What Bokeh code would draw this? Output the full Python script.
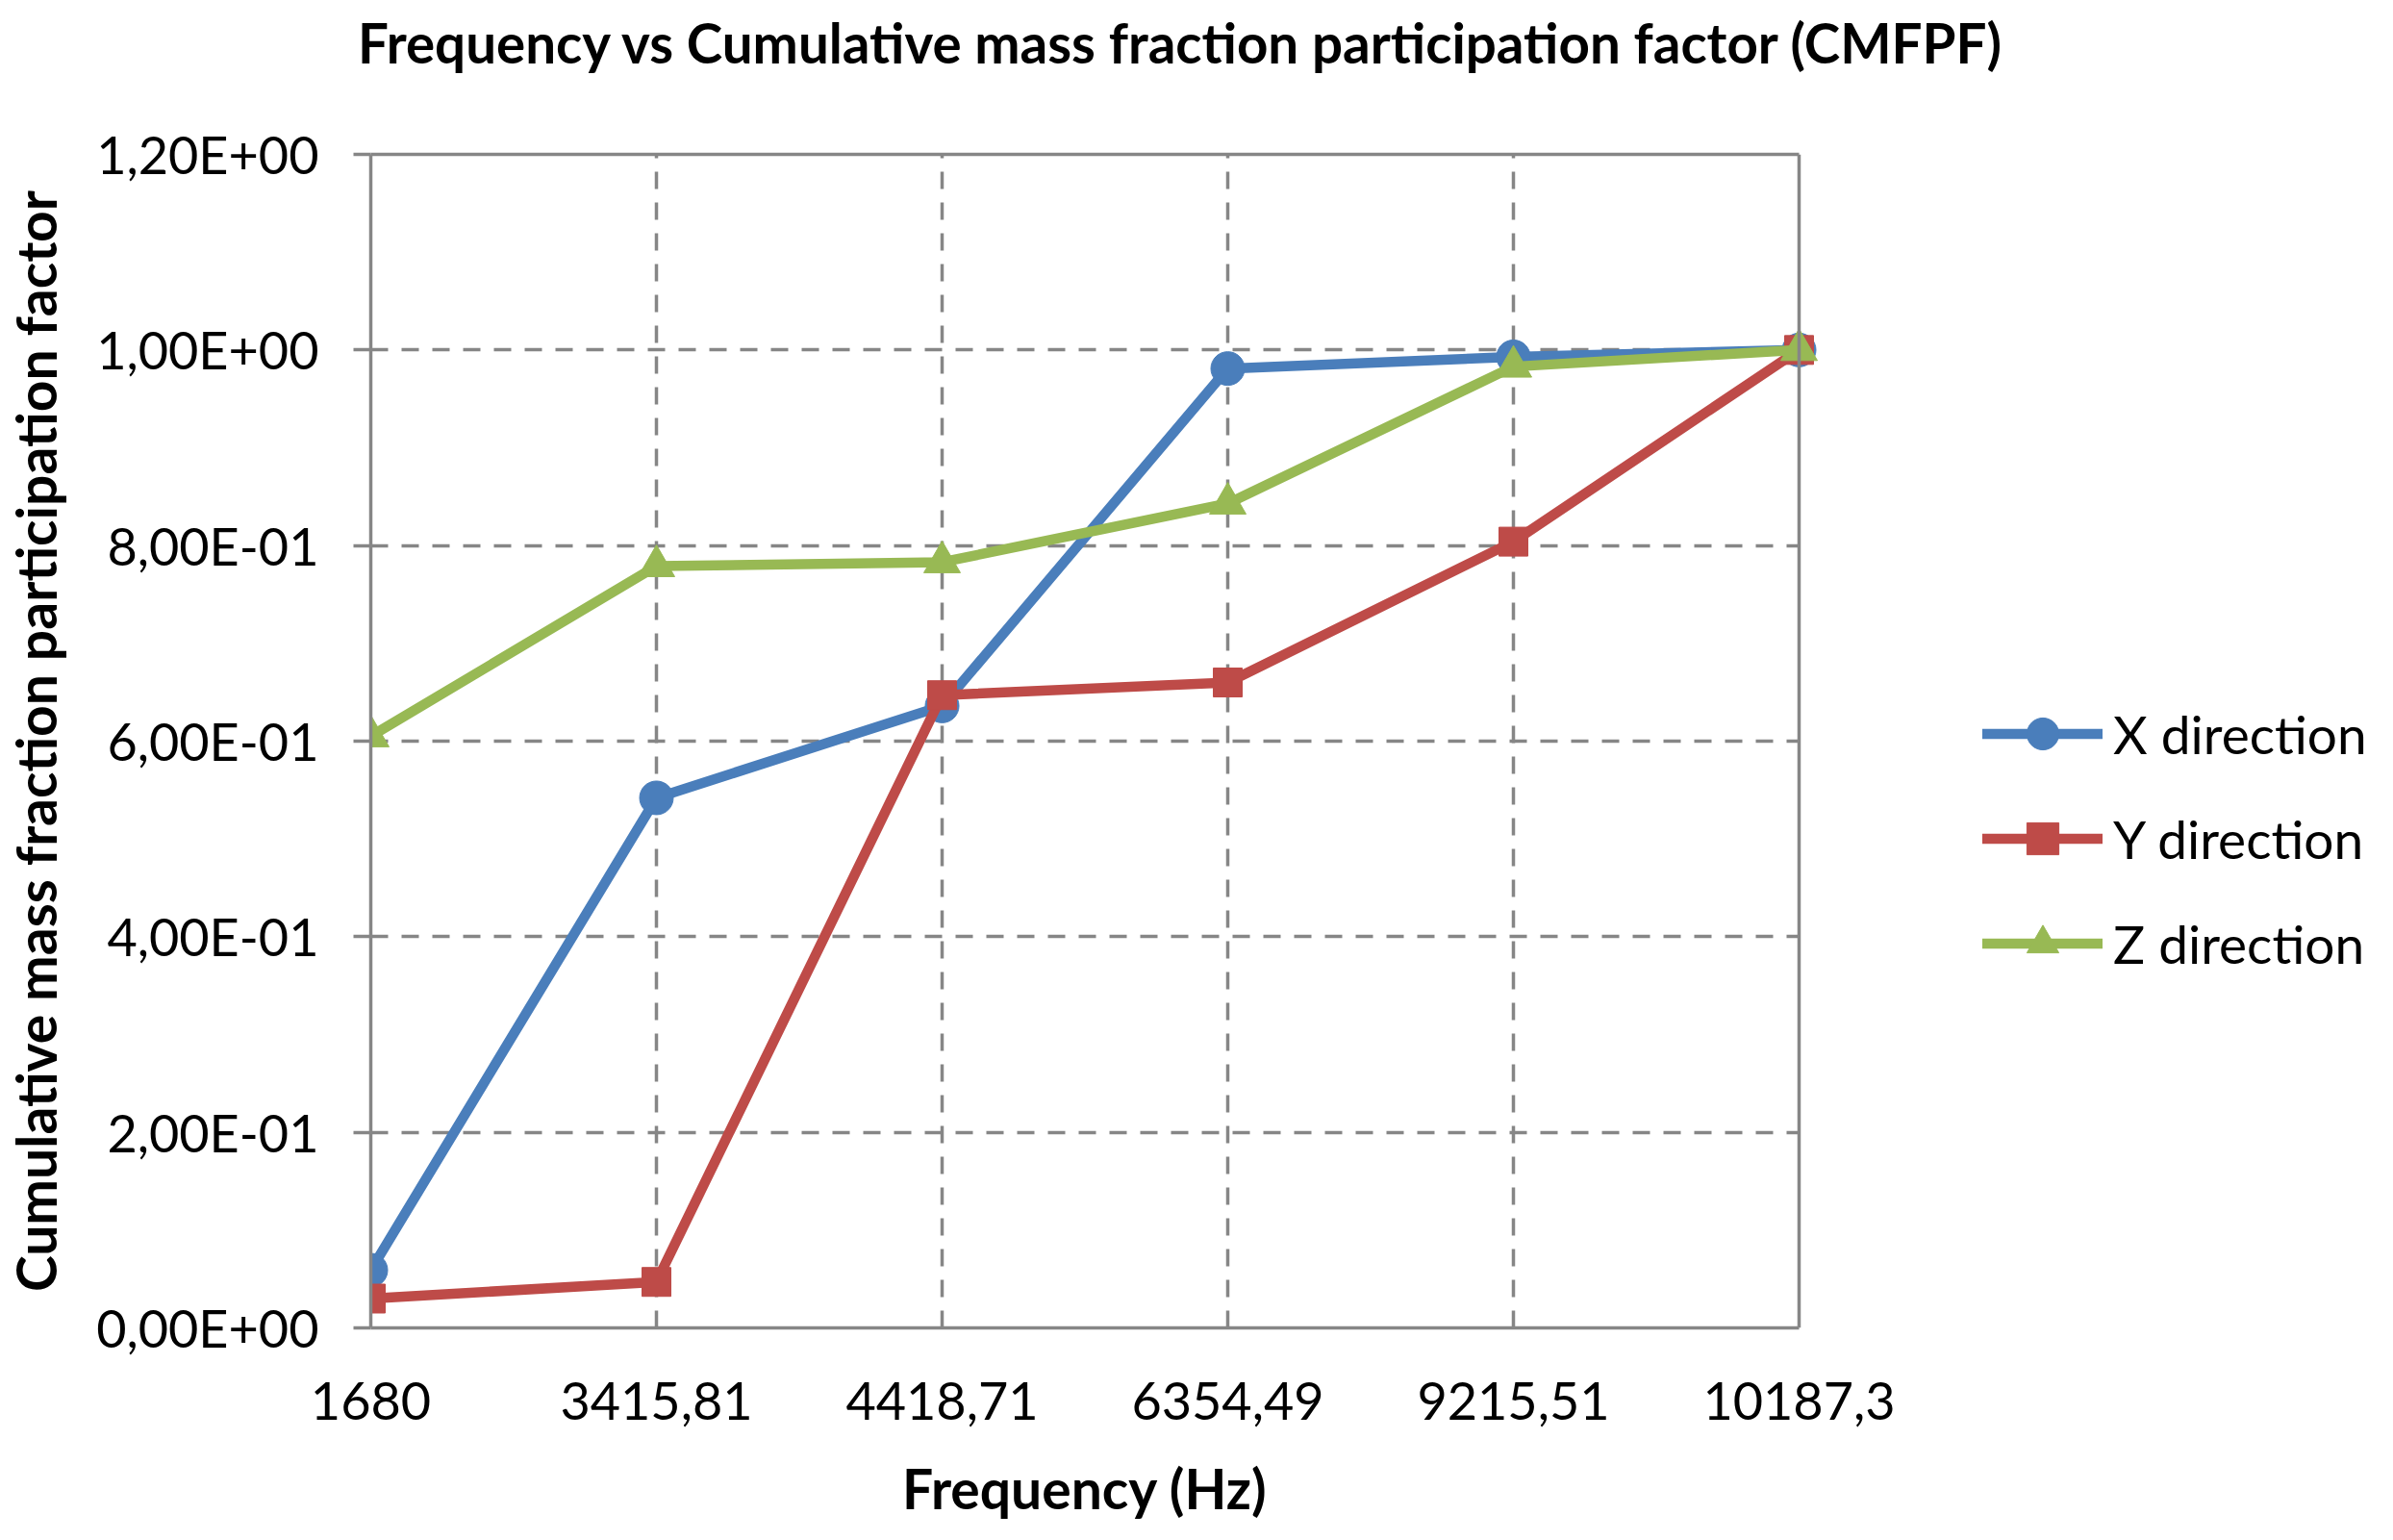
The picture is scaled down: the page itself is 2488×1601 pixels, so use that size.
from bokeh.plotting import figure
from bokeh.models import FixedTicker, Legend, LegendItem, Range1d, LinearAxis, Span
from bokeh.embed import file_html
from bokeh.resources import INLINE

# ---- data ----
frequencies = ["1680", "3415,81", "4418,71", "6354,49", "9215,51", "10187,3"]
x_direction = [0.059, 0.542, 0.636, 0.981, 0.993, 1.0]
y_direction = [0.030, 0.047, 0.647, 0.660, 0.804, 1.0]
z_direction = [0.605, 0.779, 0.783, 0.843, 0.983, 1.0]
y_ticks = [0.0, 0.2, 0.4, 0.6, 0.8, 1.0, 1.2]
y_tick_labels = ["0,00E+00", "2,00E-01", "4,00E-01", "6,00E-01", "8,00E-01", "1,00E+00", "1,20E+00"]
series_names = ["X direction", "Y direction", "Z direction"]
title_text = "Frequency vs Cumulative mass fraction participation factor (CMFPF)"
x_title = "Frequency (Hz)"
y_title = "Cumulative mass fraction participation factor"

BLUE = "#4A7EBB"
RED = "#BE4B48"
GREEN = "#98B954"
GRAY = "#868686"
FONT = "Lato"

W, H = 2472, 1585
LEFT, RIGHT_EDGE, TOP, BOTTOM = 385, 1870, 160, 205

xs = list(range(len(frequencies)))
n_last = len(frequencies) - 1
px_per_unit = (RIGHT_EDGE - LEFT) / n_last
# frame spans to the right edge of the canvas so the legend can live inside it
x_end = (W - LEFT) / px_per_unit
# the chart title is centred (roughly) on the whole canvas
x_title_center = (W / 2 - 8 - LEFT) / px_per_unit

p = figure(width=W, height=H, output_backend="svg", toolbar_location=None,
           x_range=Range1d(0, x_end), y_range=Range1d(y_ticks[0], y_ticks[-1]),
           min_border_left=LEFT, min_border_right=0, min_border_top=TOP, min_border_bottom=BOTTOM)

p.background_fill_color = "white"
p.border_fill_color = "white"
p.outline_line_color = None

# axes
p.xaxis.ticker = FixedTicker(ticks=xs)
p.xaxis.bounds = (0, n_last)
p.xaxis.major_label_overrides = {i: lab for i, lab in enumerate(frequencies)}
p.yaxis.ticker = FixedTicker(ticks=y_ticks)
p.yaxis.major_label_overrides = {t: lab for t, lab in zip(y_ticks, y_tick_labels)}

for ax in (p.xaxis[0], p.yaxis[0]):
    ax.axis_line_color = GRAY
    ax.axis_line_width = 3.5
    ax.major_tick_line_color = GRAY
    ax.major_tick_line_width = 3.5
    ax.minor_tick_line_color = None
    ax.major_label_text_font = FONT
    ax.major_label_text_font_size = "54px"
    ax.major_label_text_color = "black"

p.xaxis.major_tick_out = 0
p.xaxis.major_tick_in = 0
p.xaxis.major_label_standoff = 56

p.yaxis.major_tick_out = 18
p.yaxis.major_tick_in = 0
p.yaxis.major_label_standoff = 36
p.yaxis.axis_label = y_title
p.yaxis.axis_label_text_font = FONT
p.yaxis.axis_label_text_font_style = "bold"
p.yaxis.axis_label_text_color = "black"
p.yaxis.axis_label_text_font_size = "57px"
p.yaxis.axis_label_standoff = 26

# x axis title, centred under the category span
x_title_axis = LinearAxis(bounds=(0, n_last), ticker=FixedTicker(ticks=[n_last / 2]),
                          major_label_overrides={n_last / 2: x_title},
                          axis_line_color=None, major_tick_line_color=None, minor_tick_line_color=None,
                          major_tick_out=0, major_tick_in=0, major_label_standoff=34,
                          major_label_text_font=FONT, major_label_text_font_style="bold",
                          major_label_text_font_size="57px", major_label_text_color="black")
p.add_layout(x_title_axis, "below")

# top border of the plot area, carrying the chart title
top_axis = LinearAxis(bounds=(0, n_last), ticker=FixedTicker(ticks=[x_title_center]),
                      major_label_overrides={x_title_center: title_text},
                      axis_line_color=GRAY, axis_line_width=3.5,
                      major_tick_line_color=None, minor_tick_line_color=None,
                      major_tick_out=0, major_tick_in=0, major_label_standoff=83,
                      major_label_text_font=FONT, major_label_text_font_style="bold",
                      major_label_text_font_size="56.5px", major_label_text_color="black")
p.add_layout(top_axis, "above")
# right border of the plot area
p.add_layout(Span(location=n_last, dimension="height", line_color=GRAY, line_width=3.5))

# grids
p.xgrid.ticker = FixedTicker(ticks=xs[1:-1])
p.ygrid.ticker = FixedTicker(ticks=y_ticks[1:-1])
p.ygrid.cross_bounds = (0, n_last)
for g in (p.xgrid[0], p.ygrid[0]):
    g.grid_line_color = GRAY
    g.grid_line_width = 3.5
    g.grid_line_dash = "18 14"

# series
items = []
specs = [(x_direction, BLUE, "circle", 35), (y_direction, RED, "square", 30), (z_direction, GREEN, "triangle", 38)]
for name, (vals, col, marker, size) in zip(series_names, specs):
    ln = p.line(xs, vals, line_color=col, line_width=10.5, line_join="round", line_cap="round")
    sc = p.scatter(xs, vals, marker=marker, size=size, fill_color=col, line_color=col, line_width=1)
    items.append(LegendItem(label=name, renderers=[ln, sc]))

legend = Legend(items=items, location=(1676, 358), orientation="vertical",
                glyph_width=125, glyph_height=83, label_height=83, spacing=26,
                label_standoff=11, padding=0, margin=0,
                label_text_font=FONT, label_text_font_size="55px", label_text_color="black",
                border_line_color=None, background_fill_alpha=0)
p.add_layout(legend, "center")

open("out.html", "w").write(file_html(p, INLINE))
